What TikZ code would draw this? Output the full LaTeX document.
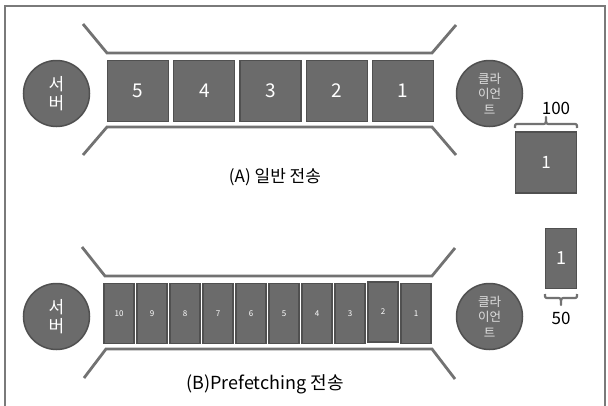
\documentclass[tikz,border=0pt]{standalone}
\usepackage{fontspec}
\setmainfont{Noto Sans CJK KR}
\usetikzlibrary{positioning}
\definecolor{boxfill}{HTML}{6B6B6B}
\definecolor{boxline}{HTML}{505050}
\definecolor{pipe}{HTML}{727272}
\definecolor{frame}{HTML}{7A7A7A}
\tikzset{
  pkt/.style={draw=boxline, fill=boxfill, line width=1.3pt, inner sep=0pt, text=white},
  bigpkt/.style={pkt, minimum width=61pt, minimum height=61pt, font=\fontsize{19}{19}\selectfont},
  smallpkt/.style={pkt, minimum width=30pt, minimum height=60pt, font=\fontsize{8}{8}\selectfont},
  host/.style={circle, draw=boxline, fill=boxfill, line width=1.5pt, minimum size=66pt, inner sep=0pt, align=center},
  pipeline/.style={draw=pipe, line width=2.8pt},
  brace/.style={draw=pipe, line width=2.2pt, line join=round},
  title/.style={text=black}
}
\begin{document}
\begin{tikzpicture}[x=1pt,y=-1pt]
\useasboundingbox (0,0) rectangle (608,405);
\fill[white] (0,0) rectangle (608,405);
% frame
\draw[frame, line width=2pt] (5,420) -- (5,6) -- (605,6) -- (605,420);

% ===== (A) =====
\draw[pipeline] (83,24) -- (107,53) -- (432,53) -- (456,25);
\draw[pipeline] (83,155) -- (107,127) -- (432,127) -- (456,155);
\node[host, text=white, font=\fontsize{17}{20}\selectfont] (srvA) at (56.5,93.5) {서\\[-1pt]버};
\node[host, text=gray!25, font=\fontsize{12.5}{15.5}\selectfont] (cliA) at (489.5,93.5) {클라\\이언\\트};
\foreach \n [count=\i from 0] in {5,4,3,2,1} {
  \node[bigpkt] (a\n) at ({138+66.3*\i},91) {\n};
}
\node[bigpkt, font=\fontsize{17}{17}\selectfont] (a1r) at (546,162.5) {1};
\draw[brace] (515,128) .. controls (515,124) .. (519,124) -- (542,124) .. controls (546,124) .. (546,117)
  .. controls (546,124) .. (550,124) -- (573,124) .. controls (577,124) .. (577,128);
\node[font=\fontsize{17}{17}\selectfont] (lab100) at (556,108) {100};
\node[title, font=\fontsize{17}{17}\selectfont] (titA) at (275,177) {(A) 일반 전송};

% ===== (B) =====
\draw[pipeline] (82,247) -- (105,276) -- (432,276) -- (455,248);
\draw[pipeline] (84,378) -- (106,349) -- (432,349) -- (455,379);
\node[host, text=white, font=\fontsize{17}{20}\selectfont] (srvB) at (56.5,316.5) {서\\[-1pt]버};
\node[host, text=gray!25, font=\fontsize{12.5}{15.5}\selectfont] (cliB) at (489.5,316.5) {클라\\이언\\트};
\foreach \n [count=\i from 0] in {10,9,8,7,6,5,4,3} {
  \node[smallpkt] (b\n) at ({119+33*\i},313.5) {\n};
}
\node[smallpkt] (b2) at ({119+33*8},312) {2};
\node[smallpkt] (b1) at ({119+33*9},313.5) {1};
\node[pkt, minimum width=31pt, minimum height=60pt, font=\fontsize{18}{18}\selectfont] (b1r) at (561,258.5) {1};
\draw[brace] (545,294) .. controls (545,298) .. (549,298) -- (557,298) .. controls (561,298) .. (561,305)
  .. controls (561,298) .. (565,298) -- (573,298) .. controls (577,298) .. (577,294);
\node[font=\fontsize{17}{17}\selectfont] (lab50) at (561,318) {50};
\node[title, font=\fontsize{18}{18}\selectfont] (titB) at (265,384) {(B)Prefetching 전송};
\end{tikzpicture}
\end{document}
